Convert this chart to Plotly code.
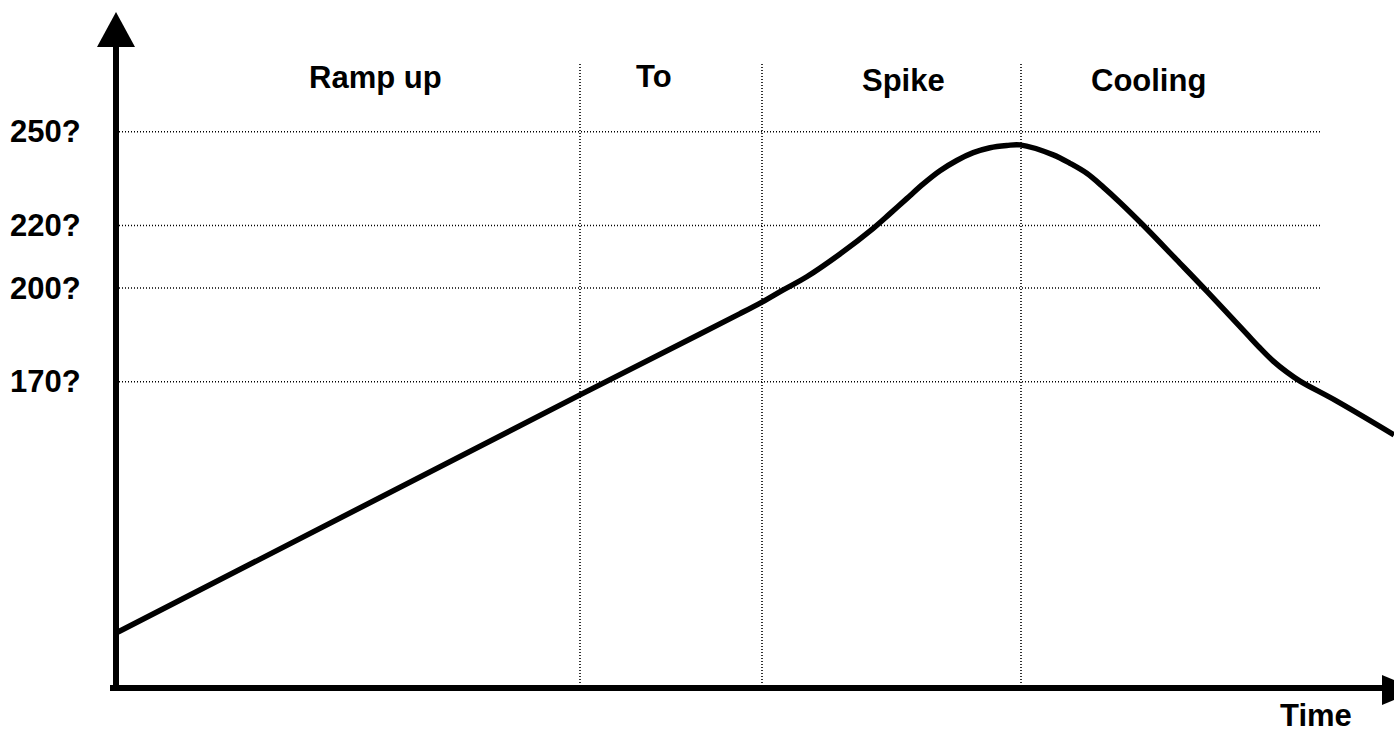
import plotly.graph_objects as go

# ---- data ----
time_s = [0.8, 185.6, 233.6, 249.6, 258.4, 266.9, 276.3, 289.6, 302.9, 309.6, 316.3, 322.9,
          329.6, 336.3, 342.9, 349.6, 356.3, 361.6, 374.9, 381.6, 388.3, 394.9, 401.6,
          410.9, 424.3, 436.3, 452.3, 457.6, 462.9, 468.3, 473.6, 488.3, 511.2]
temp_c = [89.9, 165.8, 185.3, 191.8, 195.5, 199.4, 203.6, 210.9, 219.1, 223.8, 228.6, 233.3,
          237.5, 240.8, 243.3, 244.9, 245.6, 245.8, 242.6, 239.9, 236.7, 232.3, 227.4,
          220.1, 209.0, 199.0, 185.3, 180.8, 176.6, 173.1, 170.2, 163.8, 153.0]

level_values = [250, 220, 200, 170]
level_labels = ["250?", "220?", "200?", "170?"]
level_end_time = 481.6

phase_bounds = [185.6, 258.4, 362.0]
phase_names = ["Ramp up", "To", "Spike", "Cooling"]
phase_label_time = [103.6, 215.2, 314.8, 412.8]
phase_label_temp = [267.5, 267.8, 266.5, 266.5]

X_RANGE = [0, 511.2]
Y_RANGE = [72.0, 288.32]
GUIDE_TOP = 271.7

FONT = "Liberation Sans, Arial, sans-serif"
FSIZE = 31

fig = go.Figure()
fig.add_trace(go.Scatter(
    x=time_s, y=temp_c, mode="lines",
    line=dict(color="black", width=5.5, shape="spline", smoothing=1.0),
    hoverinfo="skip", showlegend=False,
))

shapes = []
# horizontal dotted reference levels
for v in level_values:
    shapes.append(dict(type="line", xref="x", yref="y", x0=X_RANGE[0] + 1.2, x1=level_end_time,
                       y0=v, y1=v, line=dict(color="black", width=1.3, dash="1px,2px"), layer="below"))
# vertical dotted phase boundaries
for b in phase_bounds:
    shapes.append(dict(type="line", xref="x", yref="y", x0=b, x1=b, y0=GUIDE_TOP, y1=Y_RANGE[0],
                       line=dict(color="black", width=1.6, dash="1px,2px"), layer="below"))

# axes with arrows (paper coordinates)
W, H = 1278.0, 676.0
def px(xp): return (xp - 116) / W
def py(yp): return (688 - yp) / H

shapes.append(dict(type="line", xref="paper", yref="paper", x0=px(116), x1=px(116),
                   y0=py(691), y1=py(44), line=dict(color="black", width=6)))
shapes.append(dict(type="line", xref="paper", yref="paper", x0=px(110), x1=px(1386),
                   y0=py(688), y1=py(688), line=dict(color="black", width=6)))
shapes.append(dict(type="path", xref="paper", yref="paper",
                   path=f"M {px(97)},{py(47)} L {px(135)},{py(47)} L {px(116)},{py(12)} Z",
                   fillcolor="black", line=dict(color="black", width=0)))
shapes.append(dict(type="path", xref="paper", yref="paper",
                   path=f"M {px(1382)},{py(675)} L {px(1382)},{py(705)} L {px(1418)},{py(690)} Z",
                   fillcolor="black", line=dict(color="black", width=0)))

annotations = []
for v, lab in zip(level_values, level_labels):
    annotations.append(dict(xref="paper", yref="y", x=px(83), y=v, text=f"<b>{lab}</b>",
                            showarrow=False, xanchor="right", yanchor="middle",
                            font=dict(family=FONT, size=FSIZE, color="black")))
for name, t, tv in zip(phase_names, phase_label_time, phase_label_temp):
    annotations.append(dict(xref="x", yref="y", x=t, y=tv, text=f"<b>{name}</b>",
                            showarrow=False, xanchor="center", yanchor="middle",
                            font=dict(family=FONT, size=FSIZE, color="black")))
annotations.append(dict(xref="paper", yref="paper", x=px(1316), y=py(715), text="<b>Time</b>",
                        showarrow=False, xanchor="center", yanchor="middle",
                        font=dict(family=FONT, size=FSIZE, color="black")))

fig.update_layout(
    width=1394, height=732,
    margin=dict(l=116, r=0, t=12, b=44),
    paper_bgcolor="white", plot_bgcolor="white",
    xaxis=dict(range=X_RANGE, visible=False, fixedrange=True),
    yaxis=dict(range=Y_RANGE, visible=False, fixedrange=True),
    shapes=shapes, annotations=annotations,
    showlegend=False,
)

fig.write_html("out.html", config={"displayModeBar": False},
               post_script="document.body.style.margin='0';document.body.style.overflow='hidden';")
